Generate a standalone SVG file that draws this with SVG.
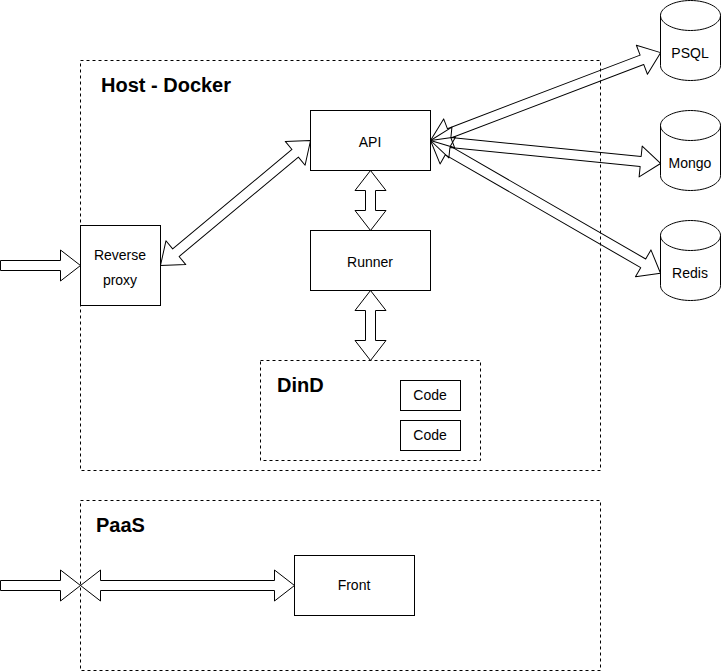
<svg xmlns="http://www.w3.org/2000/svg" width="721" height="671" viewBox="0 0 721 671">
<style>
text{font-family:"Liberation Sans",Arial,Helvetica,sans-serif;font-size:14px;fill:#000;text-anchor:middle}
text.t{font-size:20px;font-weight:700;text-anchor:start}
.b{fill:#fff;stroke:#000;stroke-width:1}
.l{fill:none;stroke:#000;stroke-width:1}
.d{fill:none;stroke:#000;stroke-width:1;stroke-dasharray:3 3}
.a{fill:none;stroke:#000;stroke-width:1;stroke-linejoin:round}
</style>
<rect width="721" height="671" fill="#fff"/>
<g id="host"><rect class="d" x="80.5" y="60.5" width="520" height="410"/><text class="t" x="101" y="92">Host - Docker</text></g>
<g id="paas"><rect class="d" x="80.5" y="500.5" width="520" height="170"/><text class="t" x="96" y="532">PaaS</text></g>
<g id="dind"><rect class="d" x="260.5" y="360.5" width="220" height="100"/><text class="t" x="277" y="392">DinD</text></g>
<g id="reverse-proxy"><rect class="b" x="80.5" y="225.5" width="80" height="80"/><text x="120" y="260">Reverse</text><text x="120" y="285">proxy</text></g>
<g id="api"><rect class="b" x="310.5" y="110.5" width="120" height="60"/><text x="370" y="147">API</text></g>
<g id="runner"><rect class="b" x="310.5" y="230.5" width="120" height="60"/><text x="370" y="267">Runner</text></g>
<g id="code1"><rect class="b" x="400.5" y="380.5" width="60" height="30"/><text x="430" y="400">Code</text></g>
<g id="code2"><rect class="b" x="400.5" y="420.5" width="60" height="30"/><text x="430" y="440">Code</text></g>
<g id="front"><rect class="b" x="294.5" y="555.5" width="120" height="60"/><text x="354" y="590">Front</text></g>
<g id="psql"><path class="b" d="M660.500 15.500C660.500 7.500 674 0.500 690.500 0.500C707 0.500 720.500 7.500 720.500 15.500V65.500C720.500 73.500 707 80.500 690.500 80.500C674 80.500 660.500 73.500 660.500 65.500Z"/><path class="l" d="M660.500 15.500C660.500 23.500 674 30.500 690.500 30.500C707 30.500 720.500 23.500 720.500 15.500"/><text x="690" y="58">PSQL</text></g>
<g id="mongo"><path class="b" d="M660.500 125.500C660.500 117.500 674 110.500 690.500 110.500C707 110.500 720.500 117.500 720.500 125.500V175.500C720.500 183.500 707 190.500 690.500 190.500C674 190.500 660.500 183.500 660.500 175.500Z"/><path class="l" d="M660.500 125.500C660.500 133.500 674 140.500 690.500 140.500C707 140.500 720.500 133.500 720.500 125.500"/><text x="690" y="168">Mongo</text></g>
<g id="redis"><path class="b" d="M660.500 235.500C660.500 227.500 674 220.500 690.500 220.500C707 220.500 720.500 227.500 720.500 235.500V285.500C720.500 293.500 707 300.500 690.500 300.500C674 300.500 660.500 293.500 660.500 285.500Z"/><path class="l" d="M660.500 235.500C660.500 243.500 674 250.500 690.500 250.500C707 250.500 720.500 243.500 720.500 235.500"/><text x="690" y="278">Redis</text></g>
<g id="connectors">
<polygon class="a" transform="translate(0.500 265.500)" points="0,-5 60,-5 60,-15.500 80,0 60,15.500 60,5 0,5"/>
<polygon class="a" transform="translate(160.500 265.500) rotate(-39.800)" points="0,0 20,-15.500 20,-5 175.300,-5 175.300,-15.500 195.300,0 175.300,15.500 175.300,5 20,5 20,15.500"/>
<polygon class="a" transform="translate(370.500 170.500)" points="0,0 15.500,20 5,20 5,40 15.500,40 0,60 -15.500,40 -5,40 -5,20 -15.500,20"/>
<polygon class="a" transform="translate(370.500 290.500)" points="0,0 15.500,20 5,20 5,50 15.500,50 0,70 -15.500,50 -5,50 -5,20 -15.500,20"/>
<polygon class="a" transform="translate(430.500 140.500) rotate(-20.900)" points="0,0 20,-15.500 20,-5 226.300,-5 226.300,-15.500 246.300,0 226.300,15.500 226.300,5 20,5 20,15.500"/>
<polygon class="a" transform="translate(430.500 140.500) rotate(5.700)" points="0,0 20,-15.500 20,-5 211.200,-5 211.200,-15.500 231.200,0 211.200,15.500 211.200,5 20,5 20,15.500"/>
<polygon class="a" transform="translate(430.500 140.500) rotate(30)" points="0,0 20,-15.500 20,-5 245.600,-5 245.600,-15.500 265.600,0 245.600,15.500 245.600,5 20,5 20,15.500"/>
<polygon class="a" transform="translate(0.500 585.500)" points="0,-5 60,-5 60,-15.500 80,0 60,15.500 60,5 0,5"/>
<polygon class="a" transform="translate(80.500 585.500)" points="0,0 20,-15.500 20,-5 194,-5 194,-15.500 214,0 194,15.500 194,5 20,5 20,15.500"/>
</g>
</svg>
